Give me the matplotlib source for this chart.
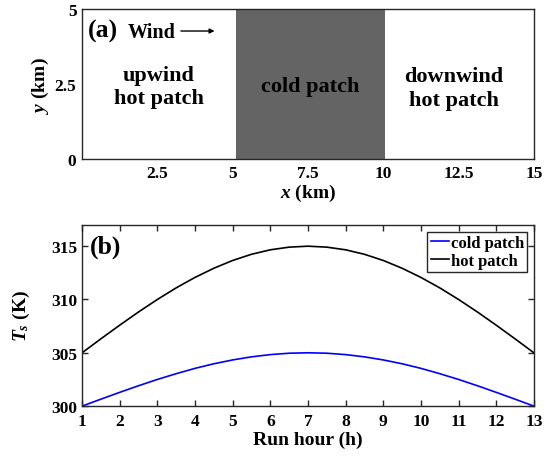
import numpy as np
import matplotlib
matplotlib.use('Agg')
import matplotlib.pyplot as plt

plt.rcParams['font.family'] = 'Liberation Serif'
plt.rcParams['font.weight'] = 'bold'
plt.rcParams['axes.labelweight'] = 'bold'
plt.rcParams['mathtext.fontset'] = 'custom'
plt.rcParams['mathtext.it'] = 'Liberation Serif:bold:italic'
plt.rcParams['mathtext.rm'] = 'Liberation Serif:bold'
plt.rcParams['mathtext.bf'] = 'Liberation Serif:bold'

# panel (a): domain layout
cold_x0 = 5.1
cold_x1 = 10.05
xticks_a = [2.5, 5, 7.5, 10, 12.5, 15]
xticklabels_a = ['2.5', '5', '7.5', '10', '12.5', '15']
yticks_a = [0, 2.5, 5]
yticklabels_a = ['0', '2.5', '5']

# panel (b): surface temperature (values read at half-hour steps)
hours = [1, 1.5, 2, 2.5, 3, 3.5, 4, 4.5, 5, 5.5, 6, 6.5, 7,
         7.5, 8, 8.5, 9, 9.5, 10, 10.5, 11, 11.5, 12, 12.5, 13]
ts_hot = [305.00, 306.31, 307.59, 308.83, 310.00, 311.09, 312.07, 312.93, 313.66, 314.24, 314.66, 314.91,
          315.00,
          314.91, 314.66, 314.24, 313.66, 312.93, 312.07, 311.09, 310.00, 308.83, 307.59, 306.31, 305.00]
ts_cold = [300.00, 300.65, 301.29, 301.91, 302.50, 303.04, 303.54, 303.97, 304.33, 304.62, 304.83, 304.96,
           305.00,
           304.96, 304.83, 304.62, 304.33, 303.97, 303.54, 303.04, 302.50, 301.91, 301.29, 300.65, 300.00]

fig = plt.figure(figsize=(5.47, 4.60), dpi=100)
ax1 = fig.add_axes([0.150, 0.652, 0.826, 0.326])
ax2 = fig.add_axes([0.150, 0.115, 0.826, 0.394])

axcol = '#262626'

# ---- (a)
ax1.set_xlim(0, 15)
ax1.set_ylim(0, 5)
ax1.axvspan(cold_x0, cold_x1, color='#646464', lw=0)
ax1.set_xticks(xticks_a)
ax1.set_xticklabels(xticklabels_a)
ax1.set_yticks(yticks_a)
ax1.set_yticklabels(yticklabels_a)
ax1.tick_params(length=0, labelsize=12.5, pad=4)
for s in ax1.spines.values():
    s.set_color(axcol)
    s.set_linewidth(1.0)
ax1.set_xlabel('$x$ (km)', fontsize=14, labelpad=1)
ax1.set_ylabel('$y$ (km)', fontsize=14, labelpad=3)

ax1.text(0.2, 4.3, '(a)', fontsize=18.5, va='center', ha='left')
ax1.text(1.52, 4.25, 'Wind', fontsize=14.5, va='center', ha='left')
ax1.annotate('', xy=(4.4, 4.27), xytext=(3.28, 4.27),
             arrowprops=dict(arrowstyle='-|>', color='k', lw=1.0,
                             mutation_scale=7, shrinkA=0, shrinkB=0))
ax1.text(2.54, 2.42, 'upwind\nhot patch', fontsize=16, ha='center', va='center', linespacing=1.25)
ax1.text(7.58, 2.42, 'cold patch', fontsize=16, ha='center', va='center')
ax1.text(12.35, 2.38, 'downwind\nhot patch', fontsize=16, ha='center', va='center', linespacing=1.25)

# ---- (b)
ax2.plot(hours, ts_cold, color='#0000ff', lw=1.2, label='cold patch')
ax2.plot(hours, ts_hot, color='k', lw=1.2, label='hot patch')
ax2.set_xlim(1, 13)
ax2.set_ylim(300, 317)
ax2.set_xticks(range(1, 14))
ax2.set_yticks([300, 305, 310, 315])
ax2.tick_params(direction='in', length=4, width=1.0, top=True, right=True,
                labelsize=12.5, color=axcol)
ax2.tick_params(axis='x', pad=5)
for s in ax2.spines.values():
    s.set_color(axcol)
    s.set_linewidth(1.0)
ax2.set_xlabel('Run hour (h)', fontsize=14, labelpad=1)
ax2.set_ylabel('$T_s$ (K)', fontsize=14, labelpad=14)
ax2.text(1.2, 315, '(b)', fontsize=18.5, va='center', ha='left')

leg = ax2.legend(loc='upper right', fontsize=12, handlelength=1.1, handletextpad=0.1,
                 borderpad=0.2, labelspacing=0.1, borderaxespad=0.4,
                 fancybox=False, framealpha=1, edgecolor=axcol)
leg.get_frame().set_linewidth(1.0)

plt.savefig('out.png', dpi=100)
